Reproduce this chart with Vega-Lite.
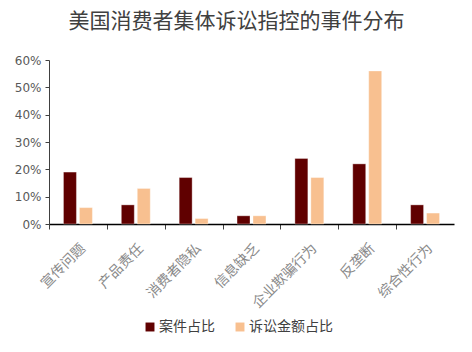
{
  "$schema": "https://vega.github.io/schema/vega-lite/v6.json",
  "width": 405,
  "height": 164,
  "autosize": "none",
  "padding": {"left": 49, "top": 60, "right": 18, "bottom": 128},
  "background": "white",
  "title": {
    "text": "美国消费者集体诉讼指控的事件分布",
    "font": "Noto Sans CJK SC",
    "fontWeight": "normal",
    "fontSize": 21,
    "color": "#404040",
    "anchor": "middle",
    "frame": "group",
    "offset": 22,
    "dx": -15
  },
  "data": {
    "values": [
      {"category": "宣传问题", "series": "案件占比", "value": 0.19},
      {"category": "宣传问题", "series": "诉讼金额占比", "value": 0.06},
      {"category": "产品责任", "series": "案件占比", "value": 0.07},
      {"category": "产品责任", "series": "诉讼金额占比", "value": 0.13},
      {"category": "消费者隐私", "series": "案件占比", "value": 0.17},
      {"category": "消费者隐私", "series": "诉讼金额占比", "value": 0.02},
      {"category": "信息缺乏", "series": "案件占比", "value": 0.03},
      {"category": "信息缺乏", "series": "诉讼金额占比", "value": 0.03},
      {"category": "企业欺骗行为", "series": "案件占比", "value": 0.24},
      {"category": "企业欺骗行为", "series": "诉讼金额占比", "value": 0.17},
      {"category": "反垄断", "series": "案件占比", "value": 0.22},
      {"category": "反垄断", "series": "诉讼金额占比", "value": 0.56},
      {"category": "综合性行为", "series": "案件占比", "value": 0.07},
      {"category": "综合性行为", "series": "诉讼金额占比", "value": 0.04}
    ]
  },
  "mark": {"type": "bar", "strokeWidth": 1, "strokeOpacity": 0.35, "stroke": "white"},
  "encoding": {
    "x": {
      "field": "category",
      "type": "nominal",
      "sort": null,
      "scale": {"paddingInner": 0, "paddingOuter": 0},
      "axis": {
        "title": null,
        "labelAngle": -45,
        "labelAlign": "right",
        "labelBaseline": "top",
        "labelFont": "Noto Sans CJK SC",
        "labelFontSize": 14,
        "labelColor": "#8a8a8a",
        "labelPadding": 12,
        "bandPosition": 0,
        "tickSize": 5,
        "tickColor": "#404040",
        "domainColor": "#000000",
        "domainWidth": 1.5,
        "tickOffset": 0
      }
    },
    "xOffset": {
      "field": "series",
      "type": "nominal",
      "scale": {"paddingInner": 0.1875, "paddingOuter": 0.906}
    },
    "y": {
      "field": "value",
      "type": "quantitative",
      "scale": {"domain": [0, 0.6], "nice": false},
      "axis": {
        "title": null,
        "format": ".0%",
        "values": [0, 0.1, 0.2, 0.3, 0.4, 0.5, 0.6],
        "grid": false,
        "labelFont": "DejaVu Sans",
        "labelFontSize": 12,
        "labelColor": "#595959",
        "tickColor": "#404040",
        "tickSize": 4,
        "domainColor": "#404040",
        "domainWidth": 1,
        "labelPadding": 4
      }
    },
    "color": {
      "field": "series",
      "type": "nominal",
      "scale": {"domain": ["案件占比", "诉讼金额占比"], "range": ["#600000", "#F8C090"]},
      "legend": {
        "title": null,
        "orient": "none",
        "direction": "horizontal",
        "legendX": 94,
        "legendY": 260,
        "symbolType": "square",
        "symbolSize": 80,
        "symbolStrokeWidth": 0,
        "labelFont": "Noto Sans CJK SC",
        "labelFontSize": 14,
        "labelColor": "#404040",
        "labelOffset": 2,
        "columnPadding": 18
      }
    }
  },
  "config": {
    "view": {"stroke": null}
  }
}
